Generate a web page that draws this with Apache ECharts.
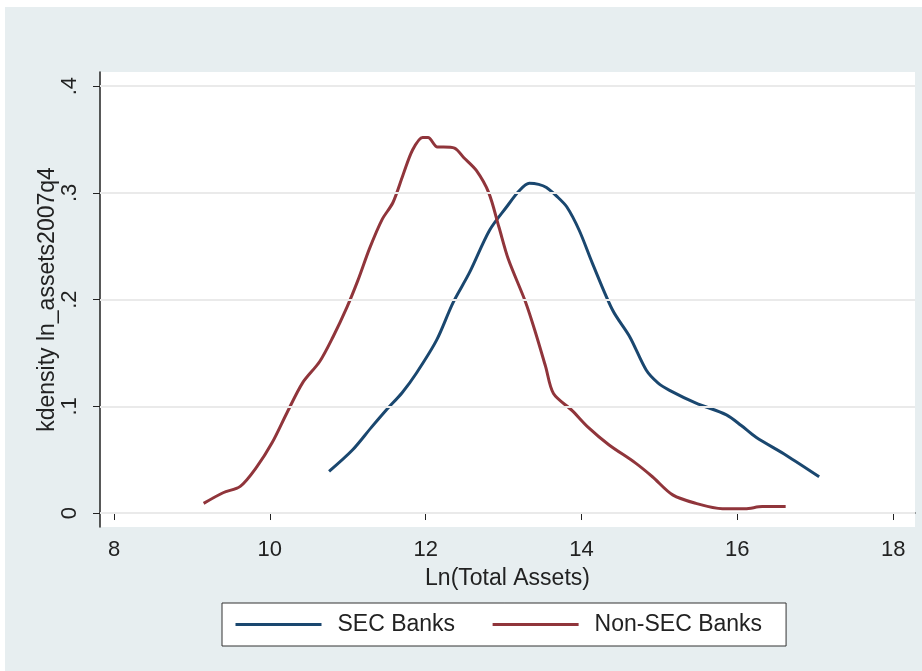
<!DOCTYPE html>
<html lang="en">
<head>
  <meta charset="UTF-8">
  <title>kdensity</title>
  <style>
    body{ margin:0; background:#ffffff; }
    #main{
      position:absolute;
      left:5px;
      top:7px;
      width:917px;
      height:664px;
      background:#e7eef0;
    }
  </style>
</head>
<body>
  <div id="main"></div>
  <script src="https://cdn.jsdelivr.net/npm/echarts@6/dist/echarts.min.js"></script>
  <script>
    // values: [ln total assets, density]
    const secBanks=[
      [10.76,0.039],[11.06,0.059],[11.30,0.080],[11.50,0.097],[11.70,0.113],[11.88,0.131],
      [12.14,0.162],[12.35,0.197],[12.56,0.225],[12.82,0.265],[13.04,0.287],[13.20,0.302],
      [13.33,0.309],[13.45,0.308],[13.55,0.305],[13.68,0.297],[13.81,0.287],[13.97,0.265],
      [14.14,0.234],[14.40,0.190],[14.62,0.165],[14.83,0.134],[14.98,0.122],[15.13,0.115],
      [15.47,0.103],[15.86,0.092],[16.05,0.082],[16.24,0.071],[16.63,0.054],[17.05,0.034]
    ];
    const nonSecBanks=[
      [9.15,0.009],[9.40,0.019],[9.62,0.025],[9.83,0.043],[10.03,0.066],[10.22,0.094],
      [10.42,0.122],[10.64,0.142],[10.81,0.165],[10.99,0.193],[11.13,0.218],[11.28,0.248],
      [11.44,0.275],[11.58,0.291],[11.71,0.317],[11.83,0.340],[11.96,0.352],[12.03,0.352],
      [12.15,0.343],[12.23,0.343],[12.37,0.342],[12.49,0.333],[12.65,0.321],[12.81,0.300],
      [12.94,0.268],[13.06,0.238],[13.28,0.198],[13.41,0.169],[13.54,0.137],[13.64,0.112],
      [13.88,0.096],[14.09,0.080],[14.35,0.064],[14.69,0.047],[14.91,0.034],[15.17,0.017],
      [15.47,0.009],[15.81,0.004],[16.10,0.004],[16.32,0.006],[16.62,0.006]
    ];
    const xTicks=[8,10,12,14,16,18];
    const yTicks=[0,0.1,0.2,0.3,0.4];
    const yTickLabels=['0','.1','.2','.3','.4'];

    const font='"Liberation Sans", Arial, sans-serif';
    const chart=echarts.init(document.querySelector('#main'));

    const option={
      animation:false,
      grid:{
        left:95, top:65, right:7, bottom:144,
        show:true, backgroundColor:'#ffffff', borderWidth:0
      },
      xAxis:{
        type:'value',
        min:7.82, max:18.28,
        name:'Ln(Total Assets)',
        nameLocation:'middle',
        nameGap:40,
        nameTextStyle:{ fontFamily:font, fontSize:23, color:'#222' },
        axisLine:{ lineStyle:{ color:'#222', width:1.5 } },
        axisTick:{ customValues:xTicks, length:7, lineStyle:{ color:'#222' } },
        axisLabel:{ customValues:xTicks, margin:12, fontFamily:font, fontSize:22, color:'#222' },
        splitLine:{ show:false }
      },
      yAxis:{
        type:'value',
        min:-0.0131, max:0.4133,
        name:'kdensity ln_assets2007q4',
        nameLocation:'middle',
        nameRotate:90,
        nameGap:41,
        nameMoveOverlap:false,
        nameTextStyle:{ fontFamily:font, fontSize:23, color:'#222' },
        axisLine:{ show:true, lineStyle:{ color:'#222', width:1.5 } },
        axisTick:{ show:true, customValues:yTicks, length:7, lineStyle:{ color:'#222' } },
        axisLabel:{
          customValues:yTicks, rotate:90, margin:19,
          fontFamily:font, fontSize:22, color:'#222',
          formatter:v=>yTickLabels[yTicks.findIndex(t=>Math.abs(t-v)<1e-9)] ?? ''
        },
        splitLine:{ show:false }
      },
      legend:{
        left:217, top:596,
        data:['SEC Banks','Non-SEC Banks'],
        backgroundColor:'#ffffff',
        borderColor:'#333',
        borderWidth:1,
        borderRadius:0,
        padding:[10,24,10,12],
        itemWidth:86,
        itemHeight:14,
        itemGap:36,
        itemStyle:{ opacity:0 },
        lineStyle:{ width:3 },
        textStyle:{ fontFamily:font, fontSize:23, color:'#222', padding:[0,0,0,11] }
      },
      series:[
        {
          name:'SEC Banks',
          type:'line',
          data:secBanks,
          symbol:'none',
          smooth:0.3,
          lineStyle:{ color:'#1a476f', width:3 },
          itemStyle:{ color:'#1a476f' },
          markLine:{
            silent:true,
            symbol:'none',
            label:{ show:false },
            lineStyle:{ color:'#eaeaea', width:2, type:'solid' },
            data:yTicks.map(v=>({ yAxis:v }))
          },
          z:3
        },
        {
          name:'Non-SEC Banks',
          type:'line',
          data:nonSecBanks,
          symbol:'none',
          smooth:0.3,
          lineStyle:{ color:'#90353b', width:3 },
          itemStyle:{ color:'#90353b' },
          z:3
        }
      ]
    };
    chart.setOption(option);
  </script>
</body>
</html>
